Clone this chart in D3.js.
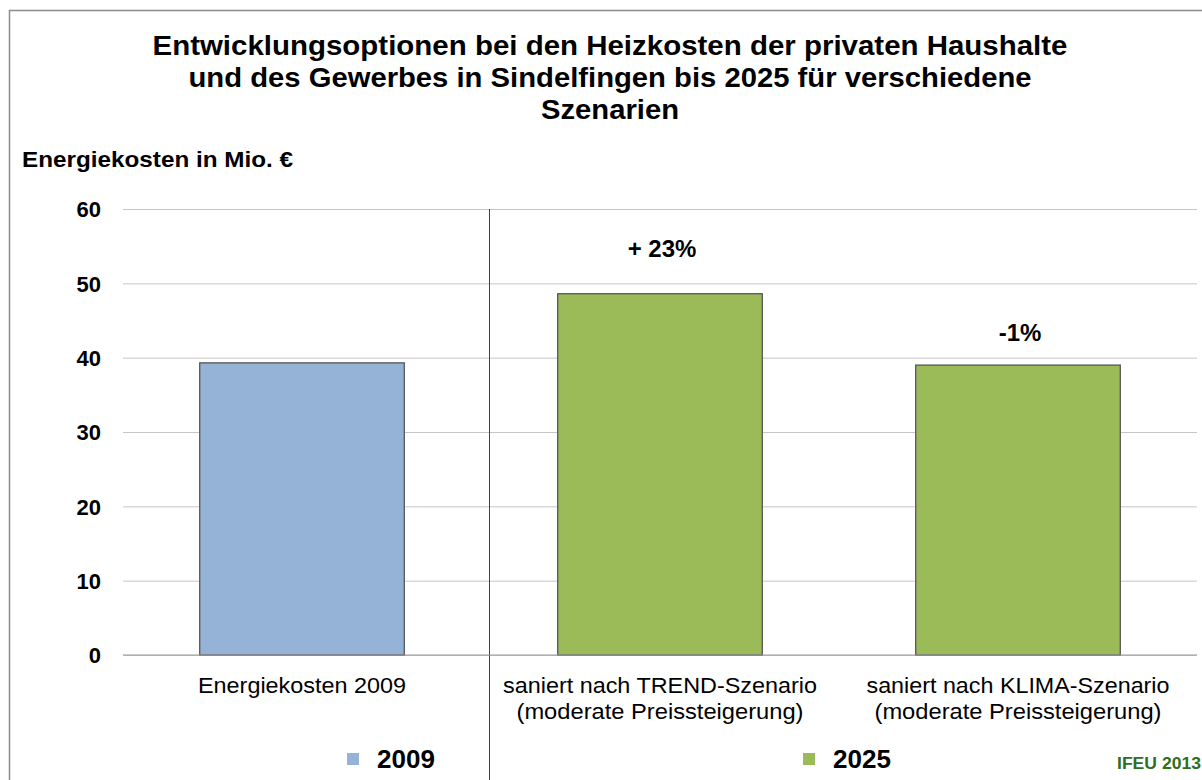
<!DOCTYPE html>
<html><head><meta charset="utf-8">
<script src="https://cdn.jsdelivr.net/npm/d3@7"></script>
<style>body{margin:0;background:#fff}svg{display:block;font-family:"Liberation Sans",Arial,sans-serif}</style>
</head><body><svg id="c" width="1202" height="780"></svg>
<script>
const categories = [["Energiekosten 2009"], ["saniert nach TREND-Szenario", "(moderate Preissteigerung)"], ["saniert nach KLIMA-Szenario", "(moderate Preissteigerung)"]];
const values = [39.3, 48.6, 39.0];
const seriesOf = ["2009", "2025", "2025"];
const changeLabels = ["", "+ 23%", "-1%"];
const changeLabelAt = [0, 53.5, 42.3];
const legendLabels = ["2009", "2025"];
const yTicks = [0, 10, 20, 30, 40, 50, 60];
const titleLines = ["Entwicklungsoptionen bei den Heizkosten der privaten Haushalte", "und des Gewerbes in Sindelfingen bis 2025 für verschiedene", "Szenarien"];

(function() {
const colors = {"2009": "#95B3D7", "2025": "#9BBB59"};
const svg = d3.select("#c");
const pLeft = 123, pRight = 1197, pTop = 209, pBottom = 655;
const titleW = [915, 843, 138];
const catW = [[208], [314, 287], [303, 287]];

// frame
svg.append("rect").attr("x", 9.5).attr("y", 10.5).attr("width", 1250).attr("height", 900)
  .attr("fill", "none").attr("stroke", "#8c8c8c").attr("stroke-width", 1.5);

// title
svg.append("g").selectAll("text").data(titleLines).join("text")
  .attr("x", 610).attr("y", (d, i) => 55 + i * 32).attr("text-anchor", "middle")
  .attr("font-size", 28).attr("font-weight", "bold").attr("fill", "#000")
  .attr("textLength", (d, i) => titleW[i]).attr("lengthAdjust", "spacingAndGlyphs").text(d => d);

svg.append("text").attr("x", 22).attr("y", 167).attr("font-size", 22).attr("font-weight", "bold")
  .attr("textLength", 271).attr("lengthAdjust", "spacingAndGlyphs").text("Energiekosten in Mio. €");

const x = d3.scaleBand().domain(d3.range(categories.length)).range([pLeft, pRight]).paddingInner(0.4286).paddingOuter(0.2143);
const y = d3.scaleLinear().domain([0, 60]).range([pBottom, pTop]);

// grid
const yAxis = d3.axisLeft(y).tickValues(yTicks).tickSize(-(pRight - pLeft)).tickPadding(22);
const ga = svg.append("g").attr("transform", `translate(${pLeft},0)`).call(yAxis);
ga.select(".domain").remove();
ga.selectAll(".tick line").attr("stroke", "#c6c6c6").attr("stroke-width", 1);
ga.selectAll(".tick text").attr("font-size", 22).attr("font-weight", "bold").attr("fill", "#000")
  .attr("font-family", "Liberation Sans, Arial, sans-serif").attr("dy", "0.36em");

// separator between 2009 and 2025 groups
const sepX = 489.5;
svg.append("line").attr("x1", sepX).attr("x2", sepX).attr("y1", pTop).attr("y2", 780).attr("stroke", "#404040").attr("stroke-width", 1);

// bars
svg.append("g").selectAll("rect").data(values).join("rect")
  .attr("x", (d, i) => x(i)).attr("width", x.bandwidth())
  .attr("y", d => y(d)).attr("height", d => y(0) - y(d))
  .attr("fill", (d, i) => colors[seriesOf[i]]).attr("stroke", "#555").attr("stroke-width", 1.3);

// zero axis
svg.append("line").attr("x1", pLeft).attr("x2", pRight).attr("y1", y(0)).attr("y2", y(0)).attr("stroke", "#9a9a9a").attr("stroke-width", 1.2);

// change labels
svg.append("g").selectAll("text").data(changeLabels).join("text")
  .attr("x", (d, i) => x(i) + x.bandwidth() / 2 + 2).attr("y", (d, i) => y(changeLabelAt[i]))
  .attr("text-anchor", "middle").attr("font-size", 24).attr("font-weight", "bold")
  .text(d => d);

// category labels
const cg = svg.append("g").selectAll("text").data(categories).join("text")
  .attr("x", (d, i) => x(i) + x.bandwidth() / 2).attr("y", 693).attr("text-anchor", "middle")
  .attr("font-size", 22).attr("fill", "#000");
cg.each(function(lines, ci) {
  d3.select(this).selectAll("tspan").data(lines).join("tspan")
    .attr("x", x(ci) + x.bandwidth() / 2)
    .attr("dy", (d, i) => i === 0 ? 0 : 26)
    .attr("textLength", (d, i) => catW[ci][i]).attr("lengthAdjust", "spacingAndGlyphs")
    .text(d => d);
});

// legend
const legX = [347, 803];
const lg = svg.append("g").selectAll("g").data(legendLabels).join("g").attr("transform", (d, i) => `translate(${legX[i]},753)`);
lg.append("rect").attr("width", 12).attr("height", 12).attr("fill", d => colors[d]);
lg.append("text").attr("x", 30).attr("y", 15).attr("font-size", 26).attr("font-weight", "bold").text(d => d);

svg.append("text").attr("x", 1117).attr("y", 769).attr("font-size", 16).attr("font-weight", "bold")
  .attr("fill", "#2f6e1c").attr("textLength", 84).attr("lengthAdjust", "spacingAndGlyphs").text("IFEU 2013");
})();
</script></body></html>
